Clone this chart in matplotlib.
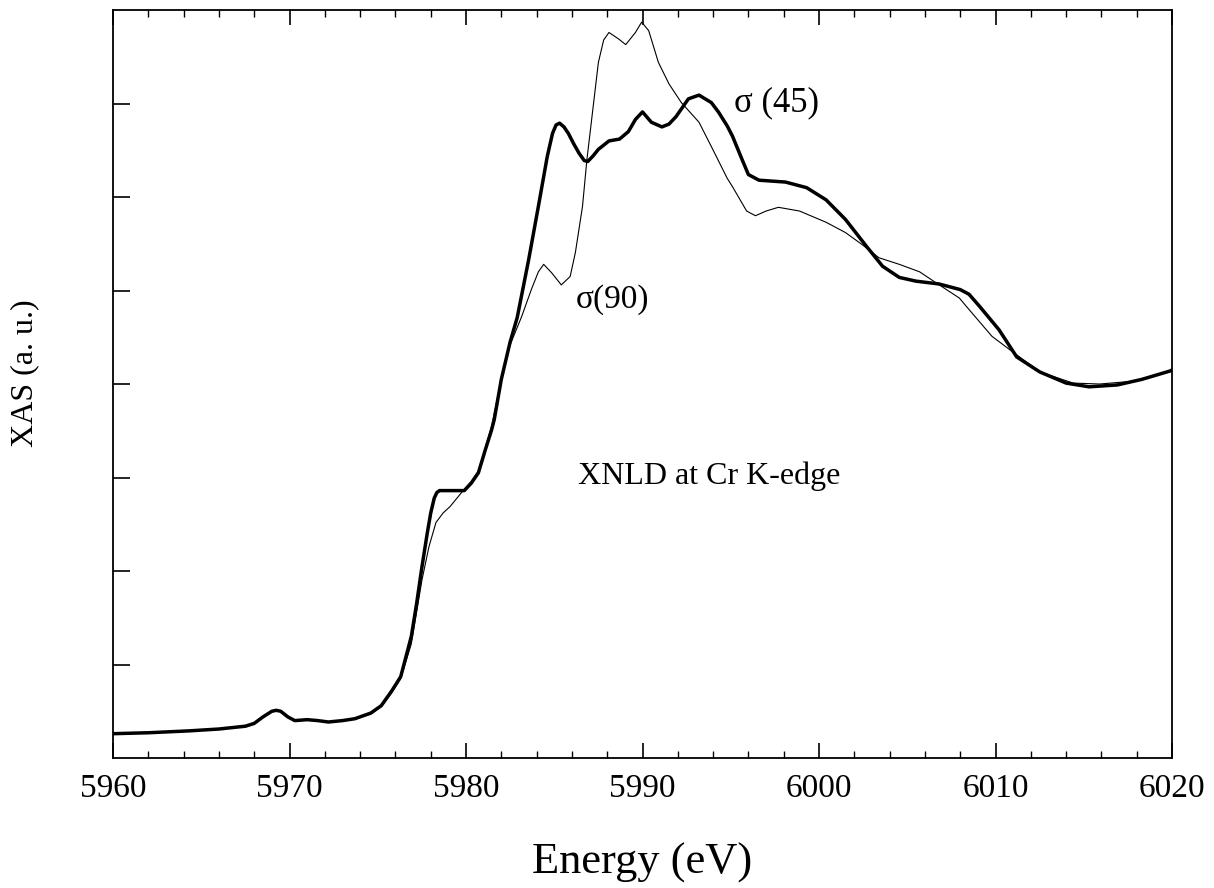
import matplotlib
matplotlib.use("Agg")
import matplotlib.pyplot as plt
from matplotlib.ticker import MultipleLocator

# ---- data ----
energy_45 = [5960.0, 5962.0, 5964.3, 5966.0, 5967.5, 5968.0, 5968.5, 5969.0, 5969.25,
             5969.5, 5969.9, 5970.3, 5971.0, 5971.6, 5972.2, 5973.0, 5973.7, 5974.6,
             5975.2, 5975.8, 5976.3, 5976.9, 5977.2, 5977.5, 5977.8, 5978.0, 5978.2,
             5978.35, 5978.5, 5979.9, 5980.3, 5980.7, 5981.1, 5981.45, 5981.6, 5982.0,
             5982.5, 5982.9, 5983.55, 5984.1, 5984.6, 5984.9, 5985.1, 5985.3, 5985.55,
             5985.8, 5986.1, 5986.4, 5986.7, 5986.9, 5987.2, 5987.5, 5988.1, 5988.7,
             5989.2, 5989.6, 5990.0, 5990.5, 5991.1, 5991.5, 5991.9, 5992.6, 5993.2,
             5993.9, 5994.3, 5994.8, 5995.1, 5995.6, 5996.0, 5996.6, 5998.1, 5999.3,
             6000.4, 6001.5, 6002.7, 6003.6, 6004.55, 6005.5, 6006.8, 6008.0, 6008.5,
             6009.1, 6010.2, 6011.2, 6012.5, 6014.0, 6015.3, 6016.9, 6018.3, 6019.9,
             6020.0]
xas_45 = [0.26, 0.27, 0.29, 0.31, 0.34, 0.37, 0.44, 0.50, 0.51,
          0.50, 0.44, 0.40, 0.41, 0.40, 0.385, 0.40, 0.42, 0.48,
          0.56, 0.72, 0.87, 1.30, 1.65, 2.04, 2.40, 2.62, 2.78,
          2.84, 2.86, 2.86, 2.94, 3.05, 3.30, 3.51, 3.62, 4.05,
          4.45, 4.71, 5.33, 5.90, 6.43, 6.68, 6.77, 6.79, 6.75,
          6.68, 6.57, 6.47, 6.39, 6.38, 6.44, 6.51, 6.60, 6.62,
          6.70, 6.83, 6.91, 6.80, 6.75, 6.78, 6.86, 7.05, 7.09,
          7.01, 6.91, 6.76, 6.65, 6.42, 6.24, 6.18, 6.16, 6.10,
          5.97, 5.76, 5.47, 5.26, 5.14, 5.10, 5.07, 5.01, 4.96,
          4.83, 4.58, 4.29, 4.13, 4.01, 3.97, 3.99, 4.05, 4.14,
          4.15]

energy_90 = [5960.0, 5962.0, 5964.3, 5966.0, 5967.5, 5968.0, 5968.5, 5969.0, 5969.25,
             5969.5, 5969.9, 5970.3, 5971.0, 5971.6, 5972.2, 5973.0, 5973.7, 5974.6,
             5975.2, 5975.8, 5976.3, 5976.9, 5977.5, 5977.9, 5978.3, 5978.7, 5979.1,
             5979.75, 5980.3, 5980.7, 5981.1, 5981.45, 5982.0, 5982.5, 5983.15, 5983.7,
             5984.1, 5984.4, 5984.85, 5985.4, 5985.9, 5986.2, 5986.6, 5986.85, 5987.25,
             5987.5, 5987.8, 5988.1, 5988.65, 5989.05, 5989.6, 5989.95, 5990.35, 5990.9,
             5991.5, 5992.2, 5993.2, 5993.9, 5994.8, 5995.1, 5995.9, 5996.4, 5997.0,
             5997.7, 5998.9, 6000.4, 6001.5, 6002.45, 6003.4, 6004.55, 6005.7, 6006.65,
             6007.95, 6008.35, 6009.8, 6011.0, 6012.5, 6014.4, 6015.9, 6017.8, 6019.9,
             6020.0]
xas_90 = [0.26, 0.27, 0.29, 0.31, 0.34, 0.37, 0.44, 0.50, 0.51,
          0.50, 0.44, 0.40, 0.41, 0.40, 0.385, 0.40, 0.42, 0.47,
          0.55, 0.70, 0.85, 1.22, 1.90, 2.26, 2.52, 2.62, 2.69,
          2.84, 2.96, 3.07, 3.32, 3.55, 4.05, 4.42, 4.72, 5.01,
          5.20, 5.28, 5.19, 5.06, 5.15, 5.41, 5.90, 6.40, 7.04,
          7.44, 7.68, 7.76, 7.69, 7.63, 7.76, 7.87, 7.78, 7.44,
          7.21, 7.01, 6.80, 6.54, 6.20, 6.11, 5.85, 5.80, 5.85,
          5.89, 5.85, 5.73, 5.62, 5.49, 5.35, 5.28, 5.20, 5.08,
          4.92, 4.83, 4.51, 4.34, 4.13, 4.01, 4.00, 4.03, 4.14,
          4.15]

x_ticks = [5960, 5970, 5980, 5990, 6000, 6010, 6020]
y_ticks = [1, 2, 3, 4, 5, 6, 7]

label_45 = "σ (45)"
label_90 = "σ(90)"
title_text = "XNLD at Cr K-edge"

# ---- figure ----
plt.rcParams['font.family'] = ['Liberation Serif', 'DejaVu Serif']
fig = plt.figure(figsize=(12.14, 8.88), dpi=100)
ax = fig.add_axes([0.0931, 0.1464, 0.8723, 0.8423])

ax.plot(energy_90, xas_90, color='black', lw=0.8, solid_joinstyle='round')
ax.plot(energy_45, xas_45, color='black', lw=2.5, solid_joinstyle='round')

ax.set_xlim(5960, 6020)
ax.set_ylim(0, 8)
ax.set_xticks(x_ticks)
ax.xaxis.set_minor_locator(MultipleLocator(2))
ax.set_yticks(y_ticks)
ax.set_yticklabels([])

ax.tick_params(axis='x', which='major', direction='in', length=11, width=1.2,
               top=True, bottom=True, labelsize=24, pad=11)
ax.tick_params(axis='x', which='minor', direction='in', length=5, width=1.0,
               top=True, bottom=True)
ax.tick_params(axis='y', which='major', direction='in', length=12, width=1.2,
               left=True, right=False)
for s in ax.spines.values():
    s.set_linewidth(1.3)

ax.text(5995.2, 7.01, label_45, fontsize=25, ha='left', va='center')
ax.text(5986.2, 4.90, label_90, fontsize=24, ha='left', va='center')
ax.text(5993.8, 3.01, title_text, fontsize=23, ha='center', va='center')

ax.set_xlabel("Energy (eV)", fontsize=32, labelpad=28)
ax.set_ylabel("XAS (a. u.)", fontsize=23)
ax.yaxis.set_label_coords(-0.070, 0.515)

fig.savefig("out.png", dpi=100)
